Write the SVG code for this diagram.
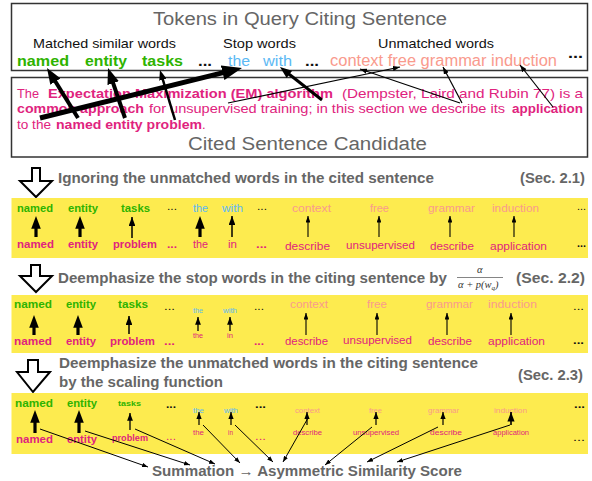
<svg xmlns="http://www.w3.org/2000/svg" width="592" height="481" viewBox="0 0 592 481">
<style>
text { font-family: "Liberation Sans", Arial, sans-serif; }
.ttl { font-size:18px; fill:#666; }
.lab { font-size:13.5px; fill:#111; }
.hd { font-size:14.5px; font-weight:bold; fill:#666; }
.g { fill:#2eb300; font-weight:bold; }
.bl { fill:#5cb9f4; }
.sa { fill:#f99a8d; }
.mg { fill:#e0237e; }
.mb { fill:#e0237e; font-weight:bold; }
.k { fill:#111; }
.kb { fill:#111; font-weight:bold; }
.box { fill:#fff; stroke:#333; stroke-width:1.5; }
.band { fill:#fdeb4f; }
.hol { fill:#fff; stroke:#000; stroke-width:2; stroke-linejoin:miter; }
.ar line { stroke:#000; fill:none; }
.fr { font-family: "Liberation Serif", "Times New Roman", serif; font-style:italic; font-size:10.5px; fill:#333; }
</style>
<defs>
<marker id="ah" viewBox="0 0 4 3" refX="2" refY="1.5" markerWidth="4" markerHeight="3" orient="auto" markerUnits="strokeWidth"><path d="M0,0 L4,1.5 L0,3 z" fill="#000"/></marker>
<marker id="ahs" viewBox="0 0 6 4.5" refX="6" refY="2.25" markerWidth="6" markerHeight="4.5" orient="auto" markerUnits="strokeWidth"><path d="M0,0 L6,2.25 L0,4.5 z" fill="#000"/></marker>
</defs>
<rect width="592" height="481" fill="#fff"/>

<g id="query-box">
<rect class="box" x="11.5" y="3.5" width="576" height="67"/>
<text class="ttl" x="153" y="25" textLength="294" lengthAdjust="spacingAndGlyphs">Tokens in Query Citing Sentence</text>
<text class="lab" x="33" y="48" textLength="143" lengthAdjust="spacingAndGlyphs">Matched similar words</text>
<text class="lab" x="223" y="48" textLength="73" lengthAdjust="spacingAndGlyphs">Stop words</text>
<text class="lab" x="378" y="48" textLength="116" lengthAdjust="spacingAndGlyphs">Unmatched words</text>
<text class="g" x="17" y="65.5" font-size="15.5" textLength="52" lengthAdjust="spacingAndGlyphs">named</text>
<text class="g" x="85" y="65.5" font-size="15.5" textLength="42" lengthAdjust="spacingAndGlyphs">entity</text>
<text class="g" x="142" y="65.5" font-size="15.5" textLength="41" lengthAdjust="spacingAndGlyphs">tasks</text>
<text class="kb" x="198" y="65.5" font-size="15" textLength="14" lengthAdjust="spacingAndGlyphs">...</text>
<text class="bl" x="228" y="65.5" font-size="15.5" textLength="22" lengthAdjust="spacingAndGlyphs">the</text>
<text class="bl" x="263" y="65.5" font-size="15.5" textLength="29" lengthAdjust="spacingAndGlyphs">with</text>
<text class="kb" x="305" y="65.5" font-size="15" textLength="14" lengthAdjust="spacingAndGlyphs">...</text>
<text class="sa" x="330" y="65.5" font-size="16" textLength="227" lengthAdjust="spacingAndGlyphs">context free grammar induction</text>
<text class="kb" x="568" y="58" font-size="15" textLength="15" lengthAdjust="spacingAndGlyphs">...</text>
</g>

<g id="cited-box">
<rect class="box" x="11.5" y="77.5" width="576" height="79.5"/>
<text class="mg" x="17" y="97.5" font-size="13" textLength="22" lengthAdjust="spacingAndGlyphs">The</text>
<text class="mb" x="48" y="97.5" font-size="13" textLength="285" lengthAdjust="spacingAndGlyphs">Expectation Maximization (EM) algorithm</text>
<text class="mg" x="342" y="97.5" font-size="13" textLength="241" lengthAdjust="spacingAndGlyphs">(Dempster, Laird and Rubin 77) is a</text>
<text class="mb" x="17" y="113" font-size="13" textLength="127" lengthAdjust="spacingAndGlyphs">common approach</text>
<text class="mg" x="149" y="113" font-size="13" textLength="356" lengthAdjust="spacingAndGlyphs">for unsupervised training; in this section we describe its</text>
<text class="mb" x="512" y="113" font-size="13" textLength="71" lengthAdjust="spacingAndGlyphs">application</text>
<text class="mg" x="17" y="129" font-size="13" textLength="34" lengthAdjust="spacingAndGlyphs">to the</text>
<text class="mb" x="56" y="129" font-size="13" textLength="146" lengthAdjust="spacingAndGlyphs">named entity problem</text>
<text class="mg" x="202" y="129" font-size="13">.</text>
<text class="ttl" x="188" y="150" textLength="239" lengthAdjust="spacingAndGlyphs">Cited Sentence Candidate</text>
</g>

<g id="step1-heading">
<path class="hol" d="M32,168 H40 V181 H52 L36,197 L20,181 H32 Z"/>
<text class="hd" x="58" y="183" textLength="376" lengthAdjust="spacingAndGlyphs">Ignoring the unmatched words in the cited sentence</text>
<text class="hd" x="520" y="183" textLength="65" lengthAdjust="spacingAndGlyphs">(Sec. 2.1)</text>
</g>

<g id="band1">
<rect class="band" x="11.5" y="198" width="576.5" height="60"/>
<g font-size="11">
<text class="g" x="17" y="212" textLength="36" lengthAdjust="spacingAndGlyphs">named</text>
<text class="g" x="68" y="212" textLength="30" lengthAdjust="spacingAndGlyphs">entity</text>
<text class="g" x="121" y="212" textLength="29" lengthAdjust="spacingAndGlyphs">tasks</text>
<text class="k" x="167" y="210" textLength="10" lengthAdjust="spacingAndGlyphs">...</text>
<text class="bl" x="193" y="212" textLength="15" lengthAdjust="spacingAndGlyphs">the</text>
<text class="bl" x="222" y="212" textLength="21" lengthAdjust="spacingAndGlyphs">with</text>
<text class="k" x="257" y="210" textLength="10" lengthAdjust="spacingAndGlyphs">...</text>
<text class="sa" x="292" y="212" textLength="39" lengthAdjust="spacingAndGlyphs">context</text>
<text class="sa" x="370" y="212" textLength="19" lengthAdjust="spacingAndGlyphs">free</text>
<text class="sa" x="428" y="212" textLength="47" lengthAdjust="spacingAndGlyphs">grammar</text>
<text class="sa" x="492" y="212" textLength="47" lengthAdjust="spacingAndGlyphs">induction</text>
<text class="k" x="577" y="210" textLength="9" lengthAdjust="spacingAndGlyphs">...</text>
<text class="mb" x="17" y="248" textLength="37" lengthAdjust="spacingAndGlyphs">named</text>
<text class="mb" x="68" y="248" textLength="30" lengthAdjust="spacingAndGlyphs">entity</text>
<text class="mb" x="113" y="248" textLength="44" lengthAdjust="spacingAndGlyphs">problem</text>
<text class="mb" x="167" y="248" textLength="10" lengthAdjust="spacingAndGlyphs">...</text>
<text class="mg" x="193" y="248" textLength="15" lengthAdjust="spacingAndGlyphs">the</text>
<text class="mg" x="228" y="248" textLength="9" lengthAdjust="spacingAndGlyphs">in</text>
<text class="mb" x="256" y="248" textLength="11" lengthAdjust="spacingAndGlyphs">...</text>
<text class="mg" x="285" y="250" textLength="45" lengthAdjust="spacingAndGlyphs">describe</text>
<text class="mg" x="346" y="249" textLength="69" lengthAdjust="spacingAndGlyphs">unsupervised</text>
<text class="mg" x="430" y="250" textLength="44" lengthAdjust="spacingAndGlyphs">describe</text>
<text class="mg" x="490" y="250" textLength="57" lengthAdjust="spacingAndGlyphs">application</text>
<text class="kb" x="577" y="247" textLength="9" lengthAdjust="spacingAndGlyphs">...</text>
</g>
</g>

<g id="step2-heading">
<path class="hol" d="M31,265 H40 V276 H52 L36,292 L20,276 H31 Z"/>
<text class="hd" x="58" y="283" textLength="389" lengthAdjust="spacingAndGlyphs">Deemphasize the stop words in the citing sentence by</text>
<text class="fr" x="477" y="273">α</text>
<line x1="457" y1="277.5" x2="503" y2="277.5" stroke="#333" stroke-width="0.6"/>
<text class="fr" x="458" y="288"><tspan>α + p(w</tspan><tspan dy="2" font-size="7">q</tspan><tspan dy="-2">)</tspan></text>
<text class="hd" x="516" y="283" textLength="69" lengthAdjust="spacingAndGlyphs">(Sec. 2.2)</text>
</g>

<g id="band2">
<rect class="band" x="11.5" y="295" width="576.5" height="58"/>
<g font-size="11">
<text class="g" x="14" y="308" textLength="38" lengthAdjust="spacingAndGlyphs">named</text>
<text class="g" x="66" y="308" textLength="30" lengthAdjust="spacingAndGlyphs">entity</text>
<text class="g" x="118" y="308" textLength="30" lengthAdjust="spacingAndGlyphs">tasks</text>
<text class="k" x="164" y="310" textLength="11" lengthAdjust="spacingAndGlyphs">...</text>
<text class="bl" x="193" y="313" font-size="7" textLength="10" lengthAdjust="spacingAndGlyphs">the</text>
<text class="bl" x="223" y="313" font-size="7" textLength="14" lengthAdjust="spacingAndGlyphs">with</text>
<text class="k" x="254" y="310" textLength="10" lengthAdjust="spacingAndGlyphs">...</text>
<text class="sa" x="290" y="308" textLength="38" lengthAdjust="spacingAndGlyphs">context</text>
<text class="sa" x="367" y="308" textLength="20" lengthAdjust="spacingAndGlyphs">free</text>
<text class="sa" x="426" y="308" textLength="47" lengthAdjust="spacingAndGlyphs">grammar</text>
<text class="sa" x="488" y="308" textLength="49" lengthAdjust="spacingAndGlyphs">induction</text>
<text class="k" x="573" y="310" textLength="11" lengthAdjust="spacingAndGlyphs">...</text>
<text class="mb" x="14" y="345" textLength="38" lengthAdjust="spacingAndGlyphs">named</text>
<text class="mb" x="66" y="345" textLength="30" lengthAdjust="spacingAndGlyphs">entity</text>
<text class="mb" x="110" y="345" textLength="45" lengthAdjust="spacingAndGlyphs">problem</text>
<text class="mb" x="164" y="345" textLength="11" lengthAdjust="spacingAndGlyphs">...</text>
<text class="mg" x="193" y="338" font-size="7" textLength="10" lengthAdjust="spacingAndGlyphs">the</text>
<text class="mg" x="227" y="338" font-size="7" textLength="6" lengthAdjust="spacingAndGlyphs">in</text>
<text class="mb" x="254" y="345" textLength="10" lengthAdjust="spacingAndGlyphs">...</text>
<text class="mg" x="285" y="345" textLength="43" lengthAdjust="spacingAndGlyphs">describe</text>
<text class="mg" x="343" y="344" textLength="69" lengthAdjust="spacingAndGlyphs">unsupervised</text>
<text class="mg" x="428" y="345" textLength="44" lengthAdjust="spacingAndGlyphs">describe</text>
<text class="mg" x="488" y="345" textLength="57" lengthAdjust="spacingAndGlyphs">application</text>
<text class="kb" x="573" y="344" textLength="11" lengthAdjust="spacingAndGlyphs">...</text>
</g>
</g>

<g id="step3-heading">
<path class="hol" d="M28,360 H38 V372 H50 L33,392 L17,372 H28 Z"/>
<text class="hd" x="59" y="368" textLength="419" lengthAdjust="spacingAndGlyphs">Deemphasize the unmatched words in the citing sentence</text>
<text class="hd" x="59" y="387" textLength="164" lengthAdjust="spacingAndGlyphs">by the scaling function</text>
<text class="hd" x="518" y="380" textLength="65" lengthAdjust="spacingAndGlyphs">(Sec. 2.3)</text>
</g>

<g id="band3">
<rect class="band" x="11.5" y="393" width="576.5" height="61"/>
<g font-size="11">
<text class="g" x="15" y="407" textLength="38" lengthAdjust="spacingAndGlyphs">named</text>
<text class="g" x="67" y="407" textLength="30" lengthAdjust="spacingAndGlyphs">entity</text>
<text class="g" x="118" y="406" font-size="8" textLength="23" lengthAdjust="spacingAndGlyphs">tasks</text>
<text class="kb" x="166" y="408" textLength="10" lengthAdjust="spacingAndGlyphs">...</text>
<text class="bl" x="193" y="413" font-size="6.5" textLength="11" lengthAdjust="spacingAndGlyphs">the</text>
<text class="bl" x="224" y="413" font-size="6.5" textLength="14" lengthAdjust="spacingAndGlyphs">with</text>
<text class="kb" x="255" y="408" textLength="11" lengthAdjust="spacingAndGlyphs">...</text>
<text class="sa" x="295" y="413" font-size="6.5" textLength="25" lengthAdjust="spacingAndGlyphs">context</text>
<text class="sa" x="369" y="413" font-size="6.5" textLength="13" lengthAdjust="spacingAndGlyphs">free</text>
<text class="sa" x="428" y="413" font-size="6.5" textLength="31" lengthAdjust="spacingAndGlyphs">grammar</text>
<text class="sa" x="494" y="413" font-size="6.5" textLength="33" lengthAdjust="spacingAndGlyphs">induction</text>
<text class="kb" x="574" y="408" textLength="11" lengthAdjust="spacingAndGlyphs">...</text>
<text class="mb" x="16" y="443" textLength="37" lengthAdjust="spacingAndGlyphs">named</text>
<text class="mb" x="67" y="443" textLength="30" lengthAdjust="spacingAndGlyphs">entity</text>
<text class="mb" x="112" y="441" font-size="9" textLength="36" lengthAdjust="spacingAndGlyphs">problem</text>
<text class="mg" x="166" y="440" textLength="10" lengthAdjust="spacingAndGlyphs">...</text>
<text class="mg" x="193" y="435" font-size="6.5" textLength="11" lengthAdjust="spacingAndGlyphs">the</text>
<text class="mg" x="228" y="435" font-size="6.5" textLength="5" lengthAdjust="spacingAndGlyphs">in</text>
<text class="mg" x="255" y="440" textLength="11" lengthAdjust="spacingAndGlyphs">...</text>
<text class="mg" x="293" y="435" font-size="6.5" textLength="29" lengthAdjust="spacingAndGlyphs">describe</text>
<text class="mg" x="353" y="435" font-size="6.5" textLength="46" lengthAdjust="spacingAndGlyphs">unsupervised</text>
<text class="mg" x="430" y="435" font-size="6.5" textLength="32" lengthAdjust="spacingAndGlyphs">describe</text>
<text class="mg" x="493" y="435" font-size="6.5" textLength="36" lengthAdjust="spacingAndGlyphs">application</text>
<text class="k" x="573" y="441" textLength="12" lengthAdjust="spacingAndGlyphs">...</text>
</g>
</g>

<g id="result">
<text class="hd" x="152" y="476" textLength="310" lengthAdjust="spacingAndGlyphs">Summation → Asymmetric Similarity Score</text>
</g>

<g id="connectors" class="ar">
<line x1="78" y1="118" x2="51.2" y2="74.8" stroke-width="4" marker-end="url(#ah)"/>
<line x1="125" y1="118" x2="110.6" y2="75.6" stroke-width="4" marker-end="url(#ah)"/>
<line x1="175" y1="120" x2="161.4" y2="74.8" stroke-width="2.5" marker-end="url(#ah)"/>
<line x1="40" y1="118" x2="232.3" y2="70.4" stroke-width="5" marker-end="url(#ah)"/>
<line x1="322" y1="100" x2="284.7" y2="70.7" stroke-width="3" marker-end="url(#ah)"/>
<line x1="228" y1="103" x2="400" y2="67" stroke-width="1.2" marker-end="url(#ahs)"/>
<line x1="460" y1="103" x2="360" y2="69" stroke-width="1.2" marker-end="url(#ahs)"/>
<line x1="462" y1="103" x2="443" y2="67" stroke-width="1.2" marker-end="url(#ahs)"/>
<line x1="553" y1="107" x2="520" y2="65" stroke-width="1.2" marker-end="url(#ahs)"/>
<line x1="36" y1="237" x2="36" y2="222.4" stroke-width="3.2" marker-end="url(#ah)"/>
<line x1="80" y1="237" x2="80" y2="222.4" stroke-width="3.2" marker-end="url(#ah)"/>
<line x1="200" y1="237" x2="200" y2="222.4" stroke-width="3.2" marker-end="url(#ah)"/>
<line x1="132" y1="238" x2="132" y2="217" stroke-width="1.5" marker-end="url(#ahs)"/>
<line x1="232" y1="237" x2="232" y2="216" stroke-width="1.5" marker-end="url(#ahs)"/>
<line x1="308" y1="237" x2="308" y2="216" stroke-width="1.1" marker-end="url(#ahs)"/>
<line x1="379" y1="237" x2="379" y2="216" stroke-width="1.1" marker-end="url(#ahs)"/>
<line x1="450" y1="237" x2="450" y2="216" stroke-width="1.1" marker-end="url(#ahs)"/>
<line x1="514" y1="237" x2="514" y2="216" stroke-width="1.1" marker-end="url(#ahs)"/>
<line x1="34" y1="335" x2="34" y2="321.4" stroke-width="3.2" marker-end="url(#ah)"/>
<line x1="78" y1="335" x2="78" y2="321.4" stroke-width="3.2" marker-end="url(#ah)"/>
<line x1="129" y1="334" x2="129" y2="316" stroke-width="1.5" marker-end="url(#ahs)"/>
<line x1="198" y1="331" x2="198" y2="317" stroke-width="1.3" marker-end="url(#ahs)"/>
<line x1="230" y1="331" x2="230" y2="317" stroke-width="1.3" marker-end="url(#ahs)"/>
<line x1="306" y1="335" x2="306" y2="313" stroke-width="1.1" marker-end="url(#ahs)"/>
<line x1="377" y1="335" x2="377" y2="313" stroke-width="1.1" marker-end="url(#ahs)"/>
<line x1="447" y1="335" x2="447" y2="313" stroke-width="1.1" marker-end="url(#ahs)"/>
<line x1="511" y1="335" x2="511" y2="313" stroke-width="1.1" marker-end="url(#ahs)"/>
<line x1="35" y1="433" x2="35" y2="416.4" stroke-width="3.2" marker-end="url(#ah)"/>
<line x1="79" y1="433" x2="79" y2="416.4" stroke-width="3.2" marker-end="url(#ah)"/>
<line x1="130" y1="430" x2="130" y2="413" stroke-width="1.3" marker-end="url(#ahs)"/>
<line x1="199" y1="425" x2="199" y2="412" stroke-width="1.2" marker-end="url(#ahs)"/>
<line x1="231" y1="425" x2="231" y2="412" stroke-width="1.2" marker-end="url(#ahs)"/>
<line x1="307" y1="425" x2="307" y2="412" stroke-width="1.2" marker-end="url(#ahs)"/>
<line x1="376" y1="425" x2="376" y2="412" stroke-width="1.2" marker-end="url(#ahs)"/>
<line x1="443" y1="425" x2="443" y2="412" stroke-width="1.2" marker-end="url(#ahs)"/>
<line x1="511" y1="425" x2="511" y2="412" stroke-width="1.6" marker-end="url(#ahs)"/>
<line x1="40" y1="429" x2="148" y2="467" stroke-width="1" marker-end="url(#ahs)"/>
<line x1="85" y1="431" x2="190" y2="465" stroke-width="1" marker-end="url(#ahs)"/>
<line x1="135" y1="429" x2="215" y2="464" stroke-width="1" marker-end="url(#ahs)"/>
<line x1="203" y1="425" x2="240" y2="463" stroke-width="1" marker-end="url(#ahs)"/>
<line x1="235" y1="425" x2="273" y2="462" stroke-width="1" marker-end="url(#ahs)"/>
<line x1="308" y1="418" x2="283" y2="462" stroke-width="1" marker-end="url(#ahs)"/>
<line x1="372" y1="427" x2="325" y2="465" stroke-width="1" marker-end="url(#ahs)"/>
<line x1="438" y1="427" x2="367" y2="462" stroke-width="1" marker-end="url(#ahs)"/>
<line x1="510" y1="425" x2="397" y2="462" stroke-width="1" marker-end="url(#ahs)"/>
</g>
</svg>
